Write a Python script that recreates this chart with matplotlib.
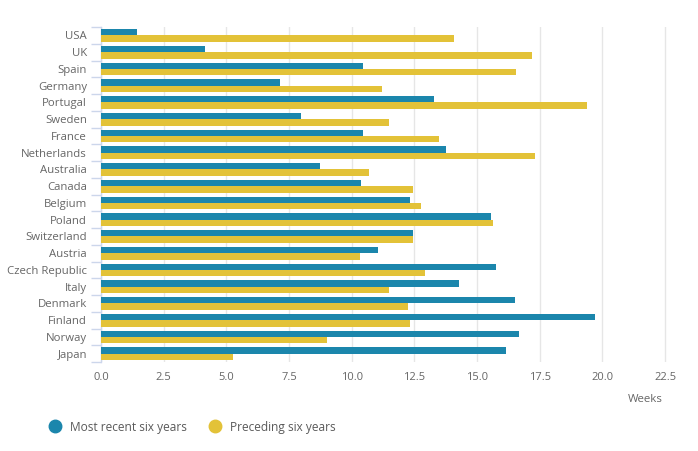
import numpy as np
import matplotlib
matplotlib.use("Agg")
from matplotlib import pyplot as plt
from matplotlib.lines import Line2D

countries = ["USA", "UK", "Spain", "Germany", "Portugal", "Sweden", "France",
             "Netherlands", "Australia", "Canada", "Belgium", "Poland",
             "Switzerland", "Austria", "Czech Republic", "Italy", "Denmark",
             "Finland", "Norway", "Japan"]
recent = [1.43, 4.14, 10.45, 7.13, 13.28, 7.97, 10.45, 13.76, 8.73, 10.37,
          12.32, 15.56, 12.44, 11.05, 15.76, 14.28, 16.52, 19.71, 16.68, 16.16]
preceding = [14.08, 17.19, 16.55, 11.21, 19.39, 11.49, 13.48, 17.31, 10.69, 12.44,
             12.76, 15.64, 12.44, 10.33, 12.92, 11.49, 12.24, 12.32, 9.01, 5.26]
series_names = ["Most recent six years", "Preceding six years"]
x_ticks = [0, 2.5, 5, 7.5, 10, 12.5, 15, 17.5, 20, 22.5]

blue = "#1b86ac"
yellow = "#e3c238"
grey = "#666666"

plt.rcParams["font.family"] = ["Open Sans", "DejaVu Sans"]

fig = plt.figure(figsize=(6.98, 4.51), dpi=100)
ax = fig.add_axes([0.1447, 0.1973, 0.834, 0.7428])

y = np.arange(len(countries))
h = 0.38
ax.barh(y - h / 2, recent, height=h, color=blue, zorder=3)
ax.barh(y + h / 2, preceding, height=h, color=yellow, zorder=3)

ax.set_xlim(0, 23.22)
ax.set_ylim(len(countries) - 0.5, -0.5)

ax.set_xticks(x_ticks)
ax.set_xticklabels([f"{t:.1f}" for t in x_ticks])
ax.set_yticks(y)
ax.set_yticklabels(countries)
ax.set_yticks(np.arange(-0.5, len(countries), 1), minor=True)

ax.tick_params(axis="y", which="major", length=0, pad=10, labelsize=8.2, labelcolor=grey)
ax.tick_params(axis="y", which="minor", length=7.2, width=1, color="#ccd6eb")
ax.tick_params(axis="x", length=0, pad=7, labelsize=8, labelcolor=grey)

ax.grid(axis="x", color="#e6e6e6", linewidth=1, zorder=0)
for side in ["top", "right", "bottom"]:
    ax.spines[side].set_visible(False)
ax.spines["left"].set_color("#ccd6eb")
ax.spines["left"].set_linewidth(1)

fig.text(663 / 698, 1 - 399 / 451, "Weeks", ha="right", va="center",
         fontsize=8.2, color=grey)

handles = [Line2D([], [], marker="o", linestyle="", markersize=9, color=c)
           for c in [blue, yellow]]
fig.legend(handles, series_names, loc="center left",
           bbox_to_anchor=(43 / 698, 1 - 427 / 451), ncol=2, frameon=False,
           fontsize=8.6, labelcolor="#5a5a5a", handletextpad=0.25,
           columnspacing=1.35, borderaxespad=0, borderpad=0)

fig.savefig("out.png", dpi=100)
